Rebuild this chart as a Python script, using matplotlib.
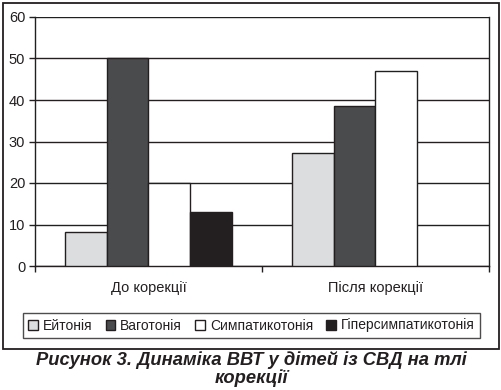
import matplotlib
matplotlib.use("Agg")
import matplotlib.pyplot as plt
import matplotlib.patches as mpatches
import numpy as np

plt.rcParams['font.family'] = ['Liberation Sans', 'DejaVu Sans']

categories = ["До корекції", "Після корекції"]
series = ["Ейтонія", "Ваготонія", "Симпатикотонія", "Гіперсимпатикотонія"]
eitonia = [8.2, 27.3]
vagotonia = [50, 38.5]
sympatho = [20, 46.9]
hypersympatho = [13.0, 0]
yticks = [0, 10, 20, 30, 40, 50, 60]
caption = "Рисунок 3. Динаміка ВВТ у дітей із СВД на тлі\nкорекції"

colors = ["#dcdddf", "#4a4b4d", "#ffffff", "#231f20"]
values = [eitonia, vagotonia, sympatho, hypersympatho]

W, H = 502, 390
fig = plt.figure(figsize=(W / 100, H / 100), dpi=100)
fig.patch.set_facecolor("white")

# outer frame
fig.add_artist(mpatches.Rectangle((3 / W, 1 - 349 / H), (499 - 3) / W, (349 - 3) / H,
                                  transform=fig.transFigure, fill=False,
                                  edgecolor="#231f20", linewidth=1.3))

ax = fig.add_axes([35 / W, 1 - 266 / H, (489 - 35) / W, (266 - 17) / H])
x = np.arange(len(categories))
w = 0.183
offsets = (np.arange(4) - 1.5) * w
for i in range(4):
    vals = values[i]
    bars = ax.bar(x + offsets[i], vals, width=w, color=colors[i], edgecolor="#231f20",
                  linewidth=1.0, label=series[i], zorder=3)
    for b, v in zip(bars, vals):
        if v == 0:
            b.set_edgecolor("none")

ax.set_xlim(-0.5, 1.5)
ax.set_ylim(0, 60)
ax.set_yticks(yticks)
ax.yaxis.grid(True, color="#231f20", linewidth=1.0, zorder=0)
ax.set_axisbelow(True)
ax.set_facecolor("white")
for s in ["left", "right", "bottom"]:
    ax.spines[s].set_color("#231f20")
    ax.spines[s].set_linewidth(1.0)
ax.spines["top"].set_visible(False)

ax.set_xticks([-0.5, 0.5, 1.5])
ax.set_xticklabels([])
ax.set_xticks(x, minor=True)
ax.set_xticklabels(categories, minor=True, fontsize=10.5, color="#231f20")
ax.tick_params(axis="x", which="major", direction="out", length=4, width=1, color="#231f20")
ax.tick_params(axis="x", which="minor", length=0, pad=11)
ax.tick_params(axis="y", direction="out", length=4, width=1, color="#231f20",
               labelsize=10.5, labelcolor="#231f20", pad=3)

leg = fig.legend(loc="center", bbox_to_anchor=((21 + 482) / 2 / W, 1 - 325.5 / H),
                 ncol=4, fontsize=10, frameon=True, fancybox=False,
                 handlelength=0.7, handleheight=0.7, handletextpad=0.35,
                 columnspacing=0.95, borderpad=0.4, edgecolor="#231f20")
leg.get_frame().set_linewidth(1.0)
for t in leg.get_texts():
    t.set_color("#231f20")

fig.text(0.5, 1 - 369 / H, caption, ha="center", va="center", fontsize=13.2,
         fontweight="bold", style="italic", color="#231f20", linespacing=1.03)

fig.savefig("out.png", dpi=100)
